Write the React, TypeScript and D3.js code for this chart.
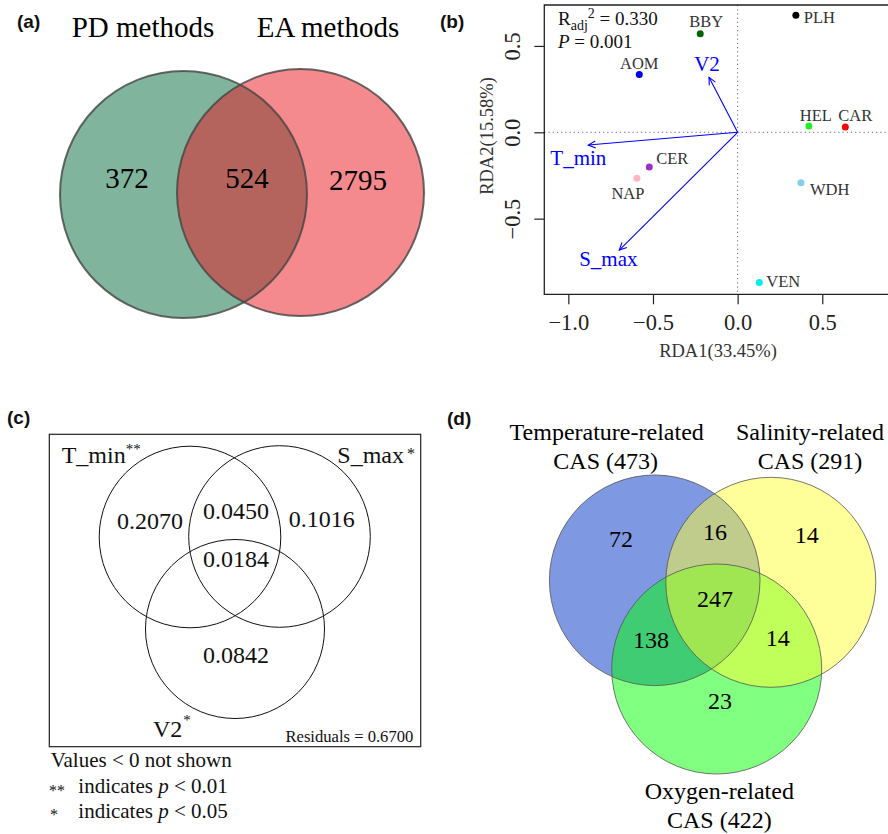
import React, { useEffect, useRef } from "react";
import * as d3 from "d3";

// (a) two-set Venn of detection methods
const methodSets = ["PD methods", "EA methods"];
const methodCounts = [372, 524, 2795]; // PD only, both, EA only

// (b) RDA ordination, sites
const siteNames = ["PLH", "BBY", "AOM", "HEL", "CAR", "CER", "NAP", "WDH", "VEN"];
const siteRda1 = [0.344, -0.221, -0.581, 0.421, 0.636, -0.522, -0.595, 0.374, 0.128];
const siteRda2 = [0.677, 0.571, 0.334, 0.036, 0.031, -0.201, -0.266, -0.292, -0.869];
const siteColors = ["#000000", "#006400", "#0000EE", "#22EE22", "#FF0000", "#9932CC", "#FFB6C1", "#87CEEB", "#00EEEE"];

// (b) environmental vectors
const envNames = ["V2", "T_min", "S_max"];
const envRda1 = [-0.169, -0.882, -0.699];
const envRda2 = [0.318, -0.074, -0.682];

const rdaXTicks = [-1, -0.5, 0, 0.5];
const rdaYTicks = [-0.5, 0, 0.5];

// (c) variation partitioning
const vpNames = ["T_min", "S_max", "V2"];
const vpStars = ["**", "*", "*"];
const vpRegions = ["T_min", "S_max", "V2", "T_min+S_max", "all"];
const vpValues = [0.207, 0.1016, 0.0842, 0.045, 0.0184];
const vpResidual = 0.67;

// (d) three-set Venn of CAS
const casSets = ["Temperature-related", "Salinity-related", "Oxygen-related"];
const casTotals = [473, 291, 422];
const casRegions = ["T", "S", "O", "TS", "TO", "SO", "TSO"];
const casCounts = [72, 14, 23, 16, 138, 14, 247];

const serif = "'Liberation Serif', 'Times New Roman', serif";
const sans = "'Liberation Sans', Arial, sans-serif";

// layout (pixels)
const siteLabelOffset: Record<string, [number, number, string]> = {
  PLH: [8, 7.4, "start"],
  BBY: [6, -7, "middle"],
  AOM: [0, -6, "middle"],
  HEL: [7, -5, "middle"],
  CAR: [10, -6, "middle"],
  CER: [7, -3, "start"],
  NAP: [-9, 21, "middle"],
  WDH: [9, 12, "start"],
  VEN: [7, 4.5, "start"],
};
const envLabelOffset: Record<string, [number, number]> = {
  V2: [-2, -6],
  T_min: [-10, 20],
  S_max: [-11, 16],
};
const vpLabelPos: Record<string, [number, number]> = {
  T_min: [150, 529],
  S_max: [321.7, 526.7],
  V2: [236, 663.3],
  "T_min+S_max": [236, 519.3],
  all: [236, 566.7],
};
const casLabelPos: Record<string, [number, number]> = {
  T: [621, 546.7],
  S: [806.7, 542.7],
  O: [720, 709.3],
  TS: [715, 540],
  TO: [651, 648.3],
  SO: [777.7, 645.7],
  TSO: [715, 607.3],
};

function RdaPanel() {
  const xRef = useRef<SVGGElement>(null);
  const yRef = useRef<SVGGElement>(null);
  const left = 544.3, top = 5, bottom = 294.3, right = 892;
  const x = d3.scaleLinear().domain([-1.142, 0.9]).range([left, 890]);
  const y = d3.scaleLinear().domain([-0.938, 0.737]).range([bottom, top]);

  useEffect(() => {
    const gx = d3.select(xRef.current!);
    gx.call(d3.axisBottom(x).tickValues(rdaXTicks).tickFormat(d3.format(".1f")).tickSize(10));
    gx.select(".domain").remove();
    gx.attr("font-family", serif).attr("font-size", 22.5);
    gx.selectAll("line").attr("stroke", "#222").attr("stroke-width", 1.2);
    gx.selectAll("text").attr("y", 35.7).attr("dy", null).attr("fill", "#222");

    const gy = d3.select(yRef.current!);
    gy.call(d3.axisLeft(y).tickValues(rdaYTicks).tickFormat(d3.format(".1f")).tickSize(10));
    gy.select(".domain").remove();
    gy.attr("font-family", serif).attr("font-size", 22.5);
    gy.selectAll("line").attr("stroke", "#222").attr("stroke-width", 1.2);
    gy.selectAll("text")
      .attr("x", null)
      .attr("dy", null)
      .attr("text-anchor", "middle")
      .attr("fill", "#222")
      .attr("transform", "translate(-24.3,0) rotate(-90)");
  }, []);

  const ox = x(0), oy = y(0);
  return (
    <g>
      <line x1={ox} x2={ox} y1={top} y2={bottom} stroke="#666" strokeDasharray="1.2,3" />
      <line x1={left} x2={right} y1={oy} y2={oy} stroke="#666" strokeDasharray="1.2,3" />
      <path d={`M${right},${top}H${left}V${bottom}H${right}`} fill="none" stroke="#222" strokeWidth={1.3} />
      <g ref={xRef} transform={`translate(0,${bottom})`} />
      <g ref={yRef} transform={`translate(${left},0)`} />
      {envNames.map((n, i) => {
        const tx = x(envRda1[i]), ty = y(envRda2[i]);
        const a = Math.atan2(ty - oy, tx - ox);
        const L = 8, w = Math.PI / 7;
        const p1 = [tx - L * Math.cos(a - w), ty - L * Math.sin(a - w)];
        const p2 = [tx - L * Math.cos(a + w), ty - L * Math.sin(a + w)];
        const off = envLabelOffset[n];
        return (
          <g key={n}>
            <line x1={ox} y1={oy} x2={tx} y2={ty} stroke="#0000FF" strokeWidth={1.1} />
            <path d={`M${p1[0]},${p1[1]}L${tx},${ty}L${p2[0]},${p2[1]}`} fill="none" stroke="#0000FF" strokeWidth={1.1} />
            <text x={tx + off[0]} y={ty + off[1]} fill="#0000FF" fontFamily={serif} fontSize={21} textAnchor="middle">
              {n}
            </text>
          </g>
        );
      })}
      {siteNames.map((n, i) => {
        const px = x(siteRda1[i]), py = y(siteRda2[i]);
        const off = siteLabelOffset[n];
        return (
          <g key={n}>
            <circle cx={px} cy={py} r={3.5} fill={siteColors[i]} />
            <text x={px + off[0]} y={py + off[1]} fontFamily={serif} fontSize={16.5} fill="#333" textAnchor={off[2]}>
              {n}
            </text>
          </g>
        );
      })}
      <text x={558} y={25} fontFamily={serif} fontSize={19} fill="#111">
        R<tspan fontSize={14} dy={5}>adj</tspan>
        <tspan fontSize={14} dy={-12}>2</tspan>
        <tspan dy={7}> = 0.330</tspan>
      </text>
      <text x={558} y={48} fontFamily={serif} fontSize={19} fill="#111">
        <tspan fontStyle="italic">P</tspan> = 0.001
      </text>
      <text x={718} y={356.7} fontFamily={serif} fontSize={18.5} fill="#333" textAnchor="middle">
        RDA1(33.45%)
      </text>
      <text transform="translate(493,136) rotate(-90)" fontFamily={serif} fontSize={18.5} fill="#333" textAnchor="middle">
        RDA2(15.58%)
      </text>
    </g>
  );
}

export default function App() {
  const starText = (s: string) => s;
  return (
    <svg width={888} height={834} style={{ position: "absolute", left: 0, top: 0, background: "#fff" }}>
      {/* panel labels */}
      <g fontFamily={sans} fontWeight="bold" fontSize={19} fill="#111">
        <text x={17} y={28.3}>(a)</text>
        <text x={440} y={28.3}>(b)</text>
        <text x={7} y={424.3}>(c)</text>
        <text x={447} y={425.3}>(d)</text>
      </g>

      {/* (a) */}
      <g>
        <circle cx={183.5} cy={194.5} r={123.5} fill="rgb(1,105,57)" fillOpacity={0.5} />
        <circle cx={300.5} cy={192.5} r={123.5} fill="rgb(233,19,29)" fillOpacity={0.5} />
        <circle cx={183.5} cy={194.5} r={123.5} fill="none" stroke="#444" strokeOpacity={0.8} strokeWidth={2} />
        <circle cx={300.5} cy={192.5} r={123.5} fill="none" stroke="#444" strokeOpacity={0.8} strokeWidth={2} />
        <g fontFamily={serif} fontSize={29} fill="#000" textAnchor="middle">
          <text x={143} y={37}>{methodSets[0]}</text>
          <text x={328} y={37}>{methodSets[1]}</text>
          <text x={127} y={188}>{methodCounts[0]}</text>
          <text x={247} y={188}>{methodCounts[1]}</text>
          <text x={358} y={190}>{methodCounts[2]}</text>
        </g>
      </g>

      {/* (b) */}
      <RdaPanel />

      {/* (c) */}
      <g fontFamily={serif} fill="#111">
        <rect x={49.3} y={434.3} width={371.4} height={312.4} fill="none" stroke="#222" strokeWidth={1.2} />
        <circle cx={190} cy={537} r={90.8} fill="none" stroke="#111" strokeWidth={1} />
        <circle cx={279.5} cy={536.5} r={90.8} fill="none" stroke="#111" strokeWidth={1} />
        <circle cx={235} cy={629} r={89.5} fill="none" stroke="#111" strokeWidth={1} />
        <text x={61.7} y={462.7} fontSize={24}>
          {vpNames[0]}
          <tspan fontSize={15} dy={-9}>{starText(vpStars[0])}</tspan>
        </text>
        <text x={415} y={462.7} fontSize={24} textAnchor="end">
          {vpNames[1]}
          <tspan fontSize={16} dx={3} dy={-4}>{vpStars[1]}</tspan>
        </text>
        <text x={153} y={736.7} fontSize={24}>
          {vpNames[2]}
          <tspan fontSize={15} dx={1} dy={-12}>{vpStars[2]}</tspan>
        </text>
        {vpRegions.map((r, i) => (
          <text key={r} x={vpLabelPos[r][0]} y={vpLabelPos[r][1]} fontSize={24} textAnchor="middle">
            {vpValues[i].toFixed(4)}
          </text>
        ))}
        <text x={413.3} y={741.7} fontSize={16.6} textAnchor="end">
          Residuals = {vpResidual.toFixed(4)}
        </text>
        <text x={50.7} y={766.7} fontSize={21}>Values &lt; 0 not shown</text>
        <text x={49} y={796} fontSize={16}>**</text>
        <text x={78.3} y={793.3} fontSize={21}>
          indicates <tspan fontStyle="italic">p</tspan> &lt; 0.01
        </text>
        <text x={50} y={820} fontSize={16}>*</text>
        <text x={78.3} y={818.3} fontSize={21}>
          indicates <tspan fontStyle="italic">p</tspan> &lt; 0.05
        </text>
      </g>

      {/* (d) */}
      <g>
        <circle cx={654.7} cy={580.3} r={105.3} fill="rgb(0,50,197)" fillOpacity={0.5} />
        <circle cx={716.7} cy={669} r={105} fill="rgb(1,255,1)" fillOpacity={0.5} />
        <circle cx={770.8} cy={582.3} r={105} fill="rgb(255,255,51)" fillOpacity={0.5} />
        <circle cx={654.7} cy={580.3} r={105.3} fill="none" stroke="#555" strokeOpacity={0.8} strokeWidth={1} />
        <circle cx={716.7} cy={669} r={105} fill="none" stroke="#555" strokeOpacity={0.8} strokeWidth={1} />
        <circle cx={770.8} cy={582.3} r={105} fill="none" stroke="#555" strokeOpacity={0.8} strokeWidth={1} />
        <g fontFamily={serif} fontSize={24} fill="#000" textAnchor="middle">
          <text x={606.7} y={440}>{casSets[0]}</text>
          <text x={605.7} y={469.3}>CAS ({casTotals[0]})</text>
          <text x={810} y={440}>{casSets[1]}</text>
          <text x={810} y={469.3}>CAS ({casTotals[1]})</text>
          <text x={719.3} y={799.3}>{casSets[2]}</text>
          <text x={719.3} y={828.3}>CAS ({casTotals[2]})</text>
          {casRegions.map((r, i) => (
            <text key={r} x={casLabelPos[r][0]} y={casLabelPos[r][1]}>
              {casCounts[i]}
            </text>
          ))}
        </g>
      </g>
    </svg>
  );
}
